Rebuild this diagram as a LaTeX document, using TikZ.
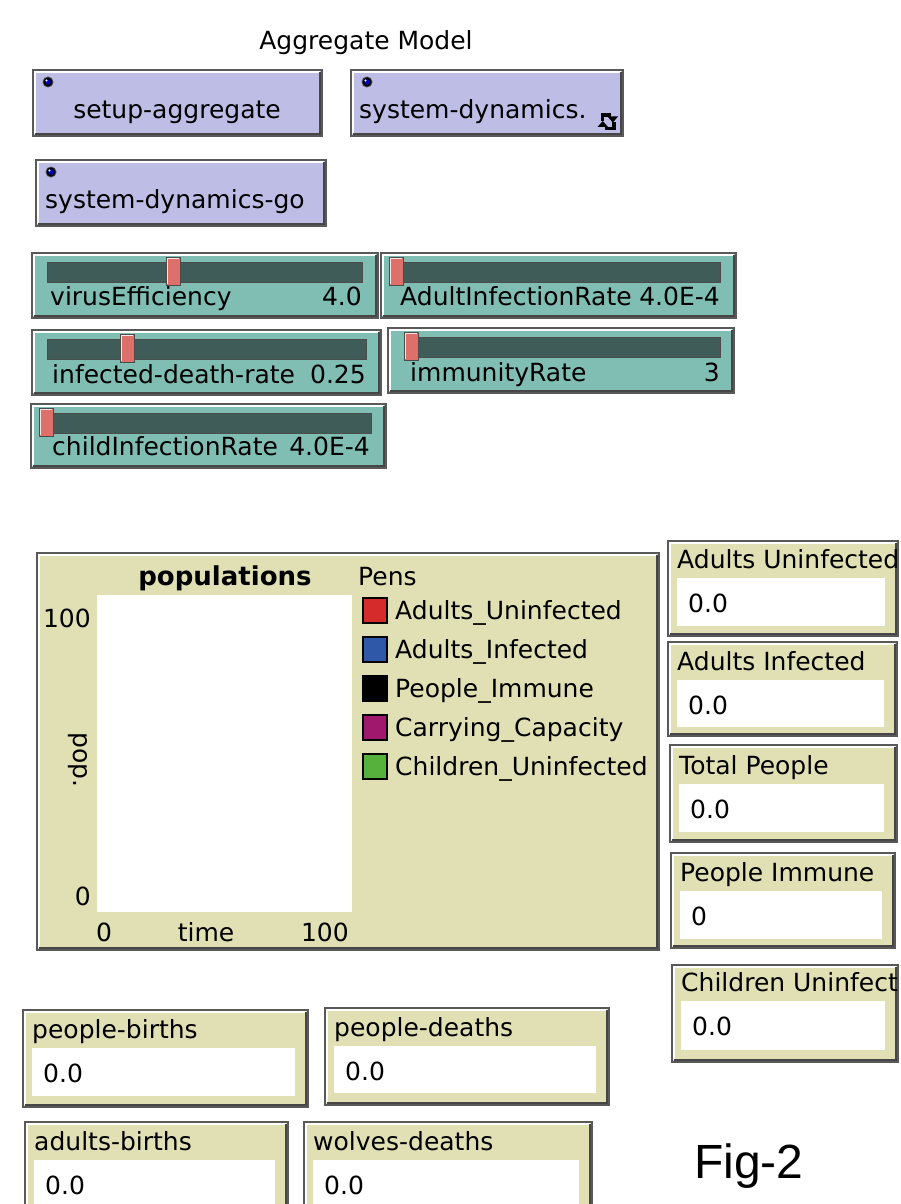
\documentclass[tikz,border=0pt]{standalone}
\usepackage{fontspec}
\setmainfont{DejaVu Sans}
\newfontfamily\figfont{Liberation Sans}
\usetikzlibrary{arrows.meta}
\definecolor{btnfill}{RGB}{189,189,230}
\definecolor{sldfill}{RGB}{128,190,180}
\definecolor{trackc}{RGB}{64,92,88}
\definecolor{handlec}{RGB}{222,112,108}
\definecolor{monfill}{RGB}{224,224,180}
\definecolor{penred}{RGB}{213,43,43}
\definecolor{penblue}{RGB}{48,88,168}
\definecolor{penmag}{RGB}{160,23,110}
\definecolor{pengreen}{RGB}{85,176,60}
\newcommand\bevbox[5]{%
  \fill[#1] (#2,#3) rectangle (#4,#5);
  \draw[gray!70!black, line width=1.4] (#2,#3) rectangle (#4,#5);
  \draw[white, line width=1.6] (#2+2,#5-2) -- (#2+2,#3+2) -- (#4-2,#3+2);
  \draw[gray!55!black, line width=1.6] (#2+2,#5-2) -- (#4-2,#5-2) -- (#4-2,#3+2);
}
\newcommand\btndot[2]{%
  \fill[gray!60!black] (#1,#2) circle (5.5);
  \fill[black] (#1,#2) circle (4.5);
  \fill[blue!70!black] (#1,#2) circle (2.8);
  \fill[white] (#1-1.5,#2-1.5) circle (1.1);
}
\tikzset{
  ui/.style={font=\fontsize{25}{30}\selectfont, inner sep=0pt},
  uib/.style={ui, anchor=base west},
  uir/.style={ui, anchor=base east},
  legtxt/.style={font=\fontsize{25}{30}\selectfont, inner sep=0pt, anchor=base west},
}
\begin{document}
\begin{tikzpicture}[x=1pt,y=-1pt]
\useasboundingbox (0,0) rectangle (900,1204);
\fill[white] (0,0) rectangle (900,1204);

% title
\node[ui, anchor=base] (title) at (366,50) {Aggregate Model};

% buttons
\bevbox{btnfill}{33}{70}{322}{136}
\btndot{48}{82}
\node[ui, anchor=base] (b1) at (177,118) {setup-aggregate};
\bevbox{btnfill}{351}{70}{623}{136}
\btndot{367}{82}
\node[uib] (b2) at (359,118) {system-dynamics.};
\draw[line width=3.2] (602.5,121) -- (602.5,115) -- (611,115);
\fill (607.5,116.5) -- (618,116.5) -- (612.8,122.5) -- cycle;
\draw[line width=3.2] (614,122) -- (614,128.5) -- (605,128.5);
\fill (597.5,127) -- (608,127) -- (602.8,121) -- cycle;
\bevbox{btnfill}{36}{160}{326}{226}
\btndot{51}{172}
\node[uib] (b3) at (45,208) {system-dynamics-go};

% sliders
\newcommand\slider[7]{% x1 y1 x2 y2 trackL trackR handleX
  \bevbox{sldfill}{#1}{#2}{#3}{#4}
  \fill[trackc] (#5,#2+9) rectangle (#6,#2+29);
  \draw[black!70, line width=1] (#5,#2+9) rectangle (#6,#2+29);
  \fill[handlec] (#7,#2+4) rectangle (#7+14,#2+32);
  \draw[gray!60!black, line width=1] (#7,#2+4) rectangle (#7+14,#2+32);
  \draw[white!80!handlec, line width=1.2] (#7+1.5,#2+31) -- (#7+1.5,#2+5.5) -- (#7+12.5,#2+5.5);
}
\slider{32}{253}{378}{318}{47}{362}{166}
\node[uib] (s1l) at (50,305) {virusEfficiency};
\node[uir] (s1v) at (362,305) {4.0};
\slider{381}{253}{736}{318}{394}{720}{389}
\node[uib] (s2l) at (400,305) {AdultInfectionRate};
\node[uir] (s2v) at (720,305) {4.0E-4};
\slider{32}{330}{381}{395}{47}{366}{120}
\node[uib] (s3l) at (52,383) {infected-death-rate};
\node[uir] (s3v) at (366,383) {0.25};
\slider{388}{328}{734}{393}{404}{720}{404}
\node[uib] (s4l) at (410,381) {immunityRate};
\node[uir] (s4v) at (720,381) {3};
\slider{31}{404}{386}{468}{46}{371}{39}
\node[uib] (s5l) at (52,455) {childInfectionRate};
\node[uir] (s5v) at (370,455) {4.0E-4};

% plot
\bevbox{monfill}{37}{553}{659}{950}
\fill[white] (97,595) rectangle (352,912);
\node[ui, anchor=base, font=\bfseries\fontsize{26}{30}\selectfont] (ptitle) at (225,585) {populations};
\node[uib] (pens) at (358,585) {Pens};
\node[uir] (y100) at (91,627) {100};
\node[uir] (y0) at (91,905) {0};
\node[ui, rotate=-90, anchor=center] (ylab) at (78,760) {pop.};
\node[uib] (x0) at (96,941) {0};
\node[ui, anchor=base] (xlab) at (206,941) {time};
\node[uir] (x100) at (349,941) {100};
\foreach \c/\t/\y [count=\i] in {penred/Adults\_Uninfected/610, penblue/Adults\_Infected/649, black/People\_Immune/688, penmag/Carrying\_Capacity/727, pengreen/Children\_Uninfected/766}{
  \fill[\c] (363,\y-12) rectangle (387,\y+13);
  \draw[black, line width=1.2] (363,\y-12) rectangle (387,\y+13);
  \node[legtxt] (leg\i) at (395,\y+9) {\t};
}

% monitors
\newcommand\monitor[8]{% x1 y1 x2 y2 whiteTop whiteBot title value
  \begin{scope}
  \clip (#1-1,#2-1) rectangle (#3+1,#4+1);
  \bevbox{monfill}{#1}{#2}{#3}{#4}
  \fill[white] (#1+9,#5) rectangle (#3-13,#6);
  \node[uib] at (#1+9,#5-10) {#7};
  \node[uib] at (#1+20,#5+34) {#8};
  \end{scope}
}
\monitor{668}{541}{898}{636}{578}{626}{Adults Uninfected}{0.0}
\monitor{668}{642}{897}{736}{680}{727}{Adults Infected}{0.0}
\monitor{670}{745}{897}{842}{784}{832}{Total People}{0.0}
\monitor{671}{853}{895}{948}{891}{939}{People Immune}{0}
\monitor{672}{965}{898}{1062}{1001}{1050}{Children Uninfect}{0.0}
\monitor{23}{1010}{308}{1107}{1048}{1096}{people-births}{0.0}
\monitor{325}{1008}{609}{1105}{1046}{1093}{people-deaths}{0.0}
\monitor{25}{1122}{288}{1230}{1160}{1220}{adults-births}{0.0}
\monitor{304}{1122}{592}{1230}{1160}{1220}{wolves-deaths}{0.0}

% figure label
\node[anchor=base west, inner sep=0pt, font=\figfont\fontsize{48}{56}\selectfont] (fig) at (694,1178) {Fig-2};
\end{tikzpicture}
\end{document}
